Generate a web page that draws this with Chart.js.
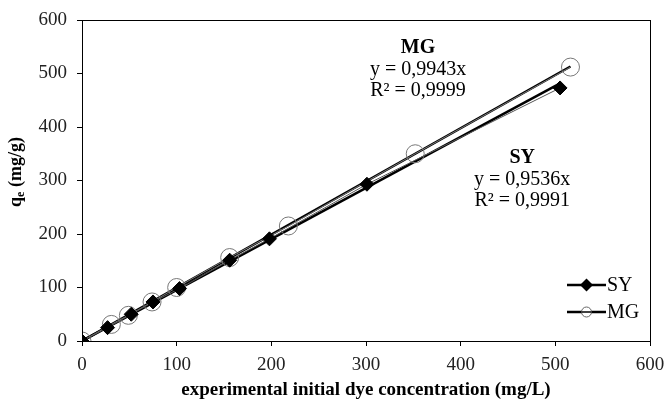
<!DOCTYPE html>
<html>
<head>
<meta charset="utf-8">
<script src="https://cdn.jsdelivr.net/npm/chart.js@4"></script>
<style>
  html, body { margin: 0; padding: 0; background: #fff; }
  #wrap { width: 667px; height: 401px; }
</style>
</head>
<body>
<div id="wrap"><canvas id="my-graph"></canvas></div>
<script>
  // values
  const syX = [0, 27, 52, 75, 103, 156, 198, 301, 505];
  const syY = [0, 25, 50, 73, 98, 151, 191, 293, 473];
  const mgX = [0, 31, 49, 74, 100, 156, 218, 352, 516];
  const mgY = [0, 31, 48, 73, 100, 156, 215, 350, 512];
  const slopes = { SY: 0.9536, MG: 0.9943 };
  const r2 = { SY: "0,9991", MG: "0,9999" };
  const tickVals = [0, 100, 200, 300, 400, 500, 600];

  const FONT = "'Liberation Serif', 'Times New Roman', serif";

  const toPts = (xs, ys) => xs.map((x, i) => ({ x: x, y: ys[i] }));
  const trend = (xs, k) => [{ x: 0, y: 0 }, { x: xs[xs.length - 1], y: k * xs[xs.length - 1] }];

  const framePlugin = {
    id: "frame",
    afterDraw(chart) {
      const ctx = chart.ctx;
      const a = chart.chartArea;
      const xs = chart.scales.x, ys = chart.scales.y;
      ctx.save();
      ctx.strokeStyle = "#000";
      ctx.lineWidth = 1;
      ctx.strokeRect(a.left + 0.5, a.top + 0.5, a.right - a.left, a.bottom - a.top);

      // y axis title with subscript
      ctx.fillStyle = "#000";
      ctx.translate(16, 172);
      ctx.rotate(-Math.PI / 2);
      ctx.font = "bold 18px " + FONT;
      const w1 = ctx.measureText("q").width;
      ctx.font = "bold 12px " + FONT;
      const w2 = ctx.measureText("e").width;
      ctx.font = "bold 18px " + FONT;
      const w3 = ctx.measureText(" (mg/g)").width;
      let x0 = -(w1 + w2 + w3) / 2;
      ctx.textBaseline = "middle";
      ctx.textAlign = "left";
      ctx.fillText("q", x0, 0);
      ctx.font = "bold 12px " + FONT;
      ctx.fillText("e", x0 + w1, 5);
      ctx.font = "bold 18px " + FONT;
      ctx.fillText(" (mg/g)", x0 + w1 + w2, 0);
      ctx.restore();

      // trendline labels
      ctx.save();
      ctx.fillStyle = "#000";
      ctx.textAlign = "center";
      ctx.textBaseline = "middle";
      const labels = [
        { name: "MG", x: 355, y: 548 },
        { name: "SY", x: 465, y: 342 }
      ];
      labels.forEach(l => {
        const px = xs.getPixelForValue(l.x);
        const py = ys.getPixelForValue(l.y);
        ctx.font = "bold 20px " + FONT;
        ctx.fillText(l.name, px, py);
        ctx.font = "20px " + FONT;
        ctx.fillText("y = " + slopes[l.name].toFixed(4).replace(".", ",") + "x", px, py + 22);
        ctx.fillText("R\u00B2 = " + r2[l.name], px, py + 43);
      });
      ctx.restore();

      // legend
      ctx.save();
      const lx = a.right - 83, rows = [a.bottom - 56, a.bottom - 29];
      ["SY", "MG"].forEach((n, i) => {
        const y = rows[i];
        ctx.strokeStyle = "#000";
        ctx.lineWidth = 2.5;
        ctx.beginPath();
        ctx.moveTo(lx, y);
        ctx.lineTo(lx + 39, y);
        ctx.stroke();
        const cx = lx + 19.5;
        if (n === "SY") {
          ctx.fillStyle = "#000";
          ctx.beginPath();
          ctx.moveTo(cx, y - 6.5); ctx.lineTo(cx + 6.5, y); ctx.lineTo(cx, y + 6.5); ctx.lineTo(cx - 6.5, y);
          ctx.closePath();
          ctx.fill();
        } else {
          ctx.fillStyle = "#fff";
          ctx.strokeStyle = "#666";
          ctx.lineWidth = 1;
          ctx.beginPath();
          ctx.arc(cx, y, 5, 0, Math.PI * 2);
          ctx.fill();
          ctx.stroke();
          ctx.strokeStyle = "#000";
          ctx.lineWidth = 1.5;
          ctx.beginPath();
          ctx.moveTo(cx - 5, y); ctx.lineTo(cx + 5, y);
          ctx.stroke();
        }
        ctx.fillStyle = "#000";
        ctx.font = "20px " + FONT;
        ctx.textAlign = "left";
        ctx.textBaseline = "middle";
        ctx.fillText(n, lx + 40, y + 1);
      });
      ctx.restore();
    }
  };

  const mygraph = document.getElementById("my-graph");

  new Chart(mygraph, {
    type: "scatter",
    data: {
      datasets: [
        {
          label: "SY trend",
          data: trend(syX, slopes.SY),
          showLine: true,
          borderColor: "#000",
          borderWidth: 2.5,
          pointRadius: 0,
          order: 3
        },
        {
          label: "MG trend",
          data: trend(mgX, slopes.MG),
          showLine: true,
          borderColor: "#000",
          borderWidth: 2.5,
          pointRadius: 0,
          order: 4
        },
        {
          label: "MG",
          data: toPts(mgX, mgY),
          showLine: true,
          borderColor: "#777",
          borderWidth: 1,
          pointStyle: "circle",
          pointRadius: 9,
          pointBackgroundColor: "rgba(0,0,0,0)",
          pointBorderColor: "#777",
          pointBorderWidth: 1,
          order: 2
        },
        {
          label: "SY",
          data: toPts(syX, syY),
          showLine: true,
          borderColor: "#555",
          borderWidth: 1,
          pointStyle: "rectRot",
          pointRadius: 7,
          pointBackgroundColor: "#000",
          pointBorderColor: "#000",
          pointBorderWidth: 1,
          order: 1
        }
      ]
    },
    options: {
      responsive: true,
      maintainAspectRatio: false,
      animation: false,
      layout: { padding: { left: 0, right: 17, top: 20, bottom: 0 } },
      plugins: {
        legend: { display: false },
        tooltip: { enabled: false }
      },
      scales: {
        x: {
          type: "linear",
          min: 0,
          max: 600,
          afterBuildTicks: axis => { axis.ticks = tickVals.map(v => ({ value: v })); },
          afterFit: axis => { axis.height = 60; axis.paddingRight = 0; axis.paddingLeft = 0; },
          border: { color: "#000", width: 1 },
          grid: { display: true, drawOnChartArea: false, drawTicks: true, tickLength: 5, color: "#000" },
          ticks: { color: "#222", font: { family: FONT, size: 19 }, padding: 8, maxRotation: 0 },
          title: {
            display: true,
            text: "experimental initial dye concentration (mg/L)",
            color: "#000",
            font: { family: FONT, size: 19, weight: "bold" },
            padding: { top: 0, bottom: 0 }
          }
        },
        y: {
          type: "linear",
          min: 0,
          max: 600,
          afterBuildTicks: axis => { axis.ticks = tickVals.map(v => ({ value: v })); },
          afterFit: axis => { axis.width = 82; axis.paddingTop = 0; axis.paddingBottom = 0; },
          border: { color: "#000", width: 1 },
          grid: { display: true, drawOnChartArea: false, drawTicks: true, tickLength: 5, color: "#000" },
          ticks: { color: "#222", font: { family: FONT, size: 19 }, padding: 10 }
        }
      }
    },
    plugins: [framePlugin]
  });
</script>
</body>
</html>
